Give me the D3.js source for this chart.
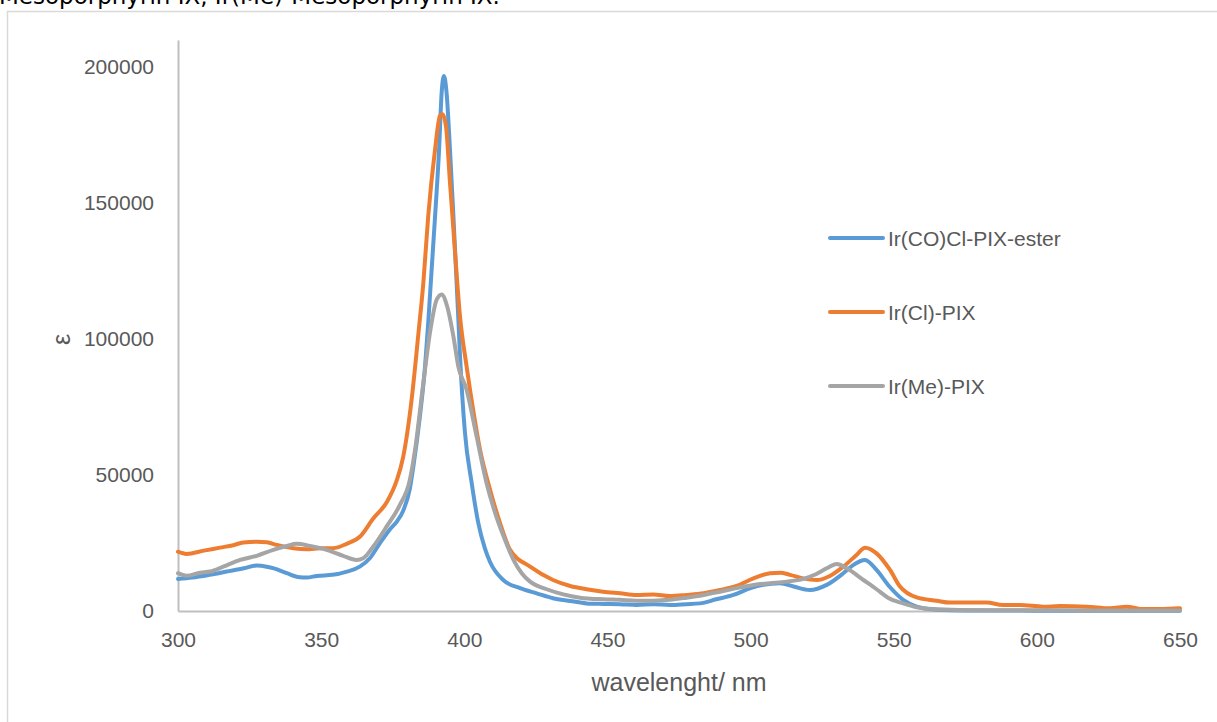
<!DOCTYPE html>
<html>
<head>
<meta charset="utf-8">
<script src="https://cdn.jsdelivr.net/npm/d3@7"></script>
<style>
  html, body { margin: 0; padding: 0; background: #ffffff; overflow: hidden; }
  svg { display: block; }
</style>
</head>
<body>
<svg id="chart" width="1217" height="722"></svg>
<script>
// ---- data ----
const titleText = "Mesoporphyrin IX, Ir(Me)-Mesoporphyrin IX.";
const xTicks = [300, 350, 400, 450, 500, 550, 600, 650];
const yTicks = [0, 50000, 100000, 150000, 200000];
const seriesNames = ["Ir(CO)Cl-PIX-ester", "Ir(Cl)-PIX", "Ir(Me)-PIX"];

const blueWl = [300,305,311,317,323,327.5,331,333.5,338,342.5,345,348.5,354,359,363.5,367,370.5,374,376.5,378.7,381,382.2,384.5,386.3,387.4,389.8,391.2,392.1,392.9,393.8,395,396.2,397.9,398.5,400.2,402.6,404.9,407.2,409,413.6,419.5,425.3,431,437,442.7,448.5,454.4,460.2,466,471.8,477.6,482.3,488,494,500,504.4,510.3,515,520.7,526.6,532.4,535.8,540,544,548.5,553.3,558,563,570,580,590,600,610,620,630,640,650];
const blueVal = [11800,12300,13300,14500,15700,16700,16300,15700,13900,12400,12300,12900,13300,14500,16300,19400,24900,30000,33000,37000,45000,53100,71600,90000,106000,145200,169800,190700,196800,190700,169800,145200,108000,94000,66000,47000,32300,23000,18000,11400,8400,6500,4700,3700,2800,2600,2500,2200,2500,2200,2500,2800,4300,5900,8400,9600,10200,9000,7700,9600,13900,16900,18800,15100,9000,4100,1600,600,300,200,200,100,100,100,100,100,100];

const orangeWl = [300,303,309,314.7,319.3,322.8,327.5,331,334.5,340.3,345,349.6,354.2,358.9,363.6,368.2,372.9,376.4,378.7,381.6,384,385.7,387.4,389.8,391.5,392.4,393.6,395,396.7,398.5,400.8,403.1,405.5,409,412.5,416,423,431,437,442.7,448.5,454.4,460.2,466,471.8,477.6,483.6,489.3,495.1,501,506.8,510.3,513.8,518.4,523,527.7,532.4,537,540,544,548.7,552.2,558,565,569.6,575.4,582.4,588.2,594,602.2,608,617.4,625.5,631.3,637.2,643,650];
const orangeVal = [21800,21000,22200,23300,24200,25200,25500,25300,24300,23100,22700,23100,23100,24700,27400,34000,40000,48000,56900,77700,102300,120700,145200,169800,182100,182700,178400,157600,133000,108400,90000,74000,59300,44600,32300,22500,16300,11400,9200,8000,7100,6500,5900,6100,5500,5900,6500,7700,9200,12000,13900,14100,13300,12000,11400,12900,16300,20600,23300,21200,15100,9000,5000,3800,3100,3100,3100,2200,2200,1600,1800,1600,1000,1600,700,700,1000];

const greyWl = [300,303,307.7,311.2,315.8,321.7,327.5,333.3,338,341.4,346.1,351.9,357.7,362.4,364.7,368.2,372.9,377.5,381,382.8,385.7,388,390.4,392.1,394,396.2,397.9,400.8,404.3,407.8,411.2,414.7,417.1,420,423,428.8,434.6,440.4,448.5,454.4,460.2,466,471.8,477.6,483.6,489.3,495.1,501,506.8,512.6,518.4,523,526.6,530.1,533.6,539.4,544,548,553.3,558,563.8,573,585,600,615,630,650];
const greyVal = [13900,13000,14100,14500,16300,18800,20300,22500,23900,24700,23900,22500,20300,18800,19400,23700,31100,39000,48300,59300,83900,102300,114600,116400,112100,101000,90000,81400,64200,47000,34700,24900,19000,14000,10800,8000,6100,4900,4300,4100,3800,3800,4100,4900,5900,7100,8400,9600,10200,10800,11800,13600,15700,17300,15700,11400,8000,4900,2800,1400,700,400,300,300,200,200,200];

const colors = ["#5B9BD5", "#ED7D31", "#A5A5A5"];

// ---- layout ----
const svg = d3.select("#chart");
const plotLeft = 178, plotRight = 1180, plotTop = 40, plotBottom = 611;

const x = d3.scaleLinear().domain([300, 650]).range([plotLeft, plotRight]);
const y = d3.scaleLinear().domain([0, 210000]).range([plotBottom, plotTop]);

// chart area border (extends beyond viewport)
svg.append("rect")
  .attr("x", 7.5).attr("y", 11.5)
  .attr("width", 1400).attr("height", 900)
  .attr("fill", "#ffffff")
  .attr("stroke", "#D9D9D9").attr("stroke-width", 1.5);

// clipped title from above
svg.append("text")
  .attr("x", -1).attr("y", 4)
  .attr("font-family", "DejaVu Sans, Verdana, sans-serif")
  .attr("font-size", 23)
  .attr("fill", "#000000")
  .text(titleText);

// axes
const yAxis = d3.axisLeft(y).tickValues(yTicks).tickSize(0).tickPadding(24).tickFormat(d3.format("d"));
const xAxis = d3.axisBottom(x).tickValues(xTicks).tickSize(0).tickPadding(21).tickFormat(d3.format("d"));

const gy = svg.append("g").attr("transform", `translate(${plotLeft},0)`).call(yAxis);
const gx = svg.append("g").attr("transform", `translate(0,${plotBottom})`).call(xAxis);

[gx, gy].forEach(g => {
  g.select(".domain").attr("stroke", "#BFBFBF").attr("stroke-width", 2);
  g.selectAll("text")
    .attr("font-family", "Liberation Sans, Arial, sans-serif")
    .attr("font-size", 21)
    .attr("fill", "#595959");
});

// axis titles
svg.append("text")
  .attr("x", (plotLeft + plotRight) / 2).attr("y", 691)
  .attr("text-anchor", "middle")
  .attr("font-family", "Liberation Sans, Arial, sans-serif")
  .attr("font-size", 25)
  .attr("fill", "#595959")
  .text("wavelenght/ nm");

svg.append("text")
  .attr("transform", `translate(70, ${(plotTop + plotBottom) / 2 + 14}) rotate(-90)`)
  .attr("text-anchor", "middle")
  .attr("font-family", "Liberation Sans, Arial, sans-serif")
  .attr("font-size", 25)
  .attr("fill", "#595959")
  .text("ε");

// series
const series = [
  { name: seriesNames[0], wl: blueWl, val: blueVal, color: colors[0] },
  { name: seriesNames[1], wl: orangeWl, val: orangeVal, color: colors[1] },
  { name: seriesNames[2], wl: greyWl, val: greyVal, color: colors[2] }
];

const line = d3.line()
  .x(d => x(d[0]))
  .y(d => y(d[1]))
  .curve(d3.curveMonotoneX);

series.forEach(s => {
  const pts = s.wl.map((w, i) => [w, s.val[i]]);
  svg.append("path")
    .datum(pts)
    .attr("d", line)
    .attr("fill", "none")
    .attr("stroke", s.color)
    .attr("stroke-width", 4)
    .attr("stroke-linejoin", "round")
    .attr("stroke-linecap", "round");
});

// legend
const legendY = [238, 312, 386];
series.forEach((s, i) => {
  svg.append("line")
    .attr("x1", 830).attr("x2", 883)
    .attr("y1", legendY[i]).attr("y2", legendY[i])
    .attr("stroke", s.color).attr("stroke-width", 4)
    .attr("stroke-linecap", "round");
  svg.append("text")
    .attr("x", 888).attr("y", legendY[i])
    .attr("dominant-baseline", "central")
    .attr("font-family", "Liberation Sans, Arial, sans-serif")
    .attr("font-size", 21)
    .attr("fill", "#595959")
    .text(s.name);
});
</script>
</body>
</html>
